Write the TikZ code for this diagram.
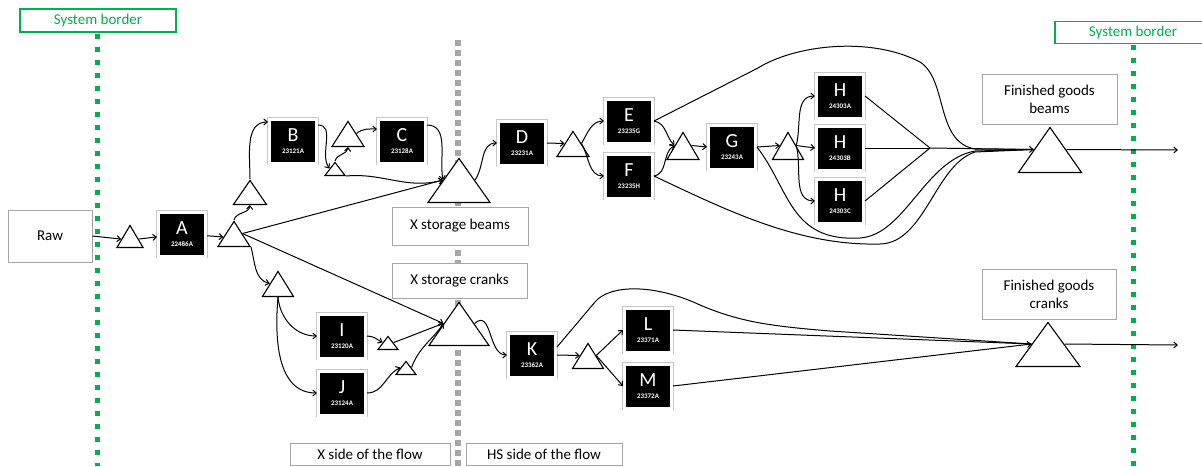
\documentclass[tikz,border=0pt]{standalone}
\usepackage{fontspec}
\setmainfont{Carlito}
\usetikzlibrary{arrows.meta,shapes.geometric,shadows}
\definecolor{sbgreen}{RGB}{0,176,80}
\definecolor{sepgray}{RGB}{166,166,166}
\definecolor{framegray}{RGB}{165,165,165}

% letter on top, article number underneath
\newcommand\proclabel[2]{{\fontsize{20}{20}\selectfont #1}\\[0pt]{\fontsize{7}{7}\selectfont\bfseries #2}}

\begin{document}
\begin{tikzpicture}[x=1pt,y=1pt,
  proc/.style={fill=black, text=white, draw=white, line width=3pt,
    preaction={draw=black!22, line width=4.6pt},
    minimum width=47pt, minimum height=44pt, inner sep=0pt, align=center},
  tri/.style={isosceles triangle, isosceles triangle stretches, shape border rotate=90,
    draw=black, fill=white, line width=1.1pt, inner sep=0pt, anchor=lower side},
  lbl/.style={draw=framegray, fill=white, line width=0.8pt, align=center, inner sep=0pt,
    font=\fontsize{15}{18}\selectfont},
  sb/.style={draw=sbgreen, fill=white, line width=1.2pt, text=sbgreen, inner sep=0pt,
    font=\fontsize{15}{15}\selectfont},
  fl/.style={line width=1pt, -{Straight Barb[length=3.5pt,width=6pt]}},
  ln/.style={line width=1pt},
  border/.style={sbgreen, line width=5pt, dash pattern=on 5pt off 8pt},
  divider/.style={sepgray, line width=6pt, dash pattern=on 6pt off 4pt},
]
\fill[white] (0,0) rectangle (1202,-466);
\useasboundingbox (0,0) rectangle (1202,-466);

% system borders and the divider between the two sides of the flow
\node[sb, minimum width=156pt, minimum height=23pt] (sbL) at (98,-20.5) {System border};
\node[sb, minimum width=156pt, minimum height=22pt] (sbR) at (1133,-32.5) {System border};
\coordinate (sbLend) at (97,-466);
\coordinate (sbRend) at (1133,-466);
\coordinate (divT) at (458,-40);
\coordinate (divB) at (458,-466);
\draw[border] ([xshift=-1pt,yshift=-1pt]sbL.south) -- (sbLend);
\draw[border] ([yshift=-1pt]sbR.south) -- (sbRend);
\draw[divider] (divT) -- (divB);

% text boxes
\node[lbl, minimum width=84pt, minimum height=52pt] (raw) at (50,-236) {Raw};
\node[lbl, minimum width=136pt, minimum height=38pt] (xbl) at (460,-226) {X storage beams};
\node[lbl, minimum width=135pt, minimum height=35pt] (xcl) at (459.5,-280.5) {X storage cranks};
\node[lbl, minimum width=135pt, minimum height=50pt] (fgbl) at (1049.5,-99) {Finished goods\\beams};
\node[lbl, minimum width=134pt, minimum height=50pt] (fgcl) at (1049,-294) {Finished goods\\cranks};
\node[lbl, minimum width=160pt, minimum height=22pt] (xside) at (370,-454) {X side of the flow};
\node[lbl, minimum width=156pt, minimum height=22pt] (hsside) at (544,-454) {HS side of the flow};

% inventories
\node[tri, minimum width=26pt, minimum height=22pt] (t1) at (130,-248) {};
\node[tri, minimum width=32pt, minimum height=25pt] (t2) at (234,-247) {};
\node[tri, minimum width=33pt, minimum height=24pt] (t3) at (250,-205) {};
\node[tri, minimum width=20pt, minimum height=13pt] (t4) at (335,-176) {};
\node[tri, minimum width=32pt, minimum height=25pt] (t5) at (348,-147) {};
\node[tri, minimum width=62pt, minimum height=44pt] (XB) at (459,-203) {};
\node[tri, minimum width=32pt, minimum height=25pt] (t6) at (573,-157) {};
\node[tri, minimum width=32pt, minimum height=27pt] (t7) at (683,-160) {};
\node[tri, minimum width=31pt, minimum height=27pt] (t8) at (788,-160) {};
\node[tri, minimum width=63pt, minimum height=45pt] (FGB) at (1050,-173) {};
\node[tri, minimum width=31pt, minimum height=25pt] (t9) at (278,-297) {};
\node[tri, minimum width=20pt, minimum height=13pt] (t10) at (388,-350) {};
\node[tri, minimum width=20pt, minimum height=13pt] (t11) at (406,-375) {};
\node[tri, minimum width=60pt, minimum height=43pt] (XC) at (459,-346) {};
\node[tri, minimum width=31pt, minimum height=25pt] (t12) at (588,-369) {};
\node[tri, minimum width=64pt, minimum height=44pt] (FGC) at (1048,-367) {};

% processes
\node[proc] (A) at (182,-234) {\proclabel{A}{22486A}};
\node[proc] (B) at (293,-141) {\proclabel{B}{23121A}};
\node[proc] (C) at (402,-141) {\proclabel{C}{23128A}};
\node[proc] (D) at (522,-143) {\proclabel{D}{23231A}};
\node[proc] (E) at (629,-121) {\proclabel{E}{23235G}};
\node[proc] (F) at (629,-176) {\proclabel{F}{23235H}};
\node[proc] (G) at (732,-147) {\proclabel{G}{23243A}};
\node[proc] (H1) at (840,-96) {\proclabel{H}{24303A}};
\node[proc] (H2) at (840,-148) {\proclabel{H}{24303B}};
\node[proc] (H3) at (840,-201) {\proclabel{H}{24303C}};
\node[proc] (I) at (342,-336) {\proclabel{I}{23120A}};
\node[proc] (J) at (342,-393) {\proclabel{J}{23124A}};
\node[proc] (K) at (532,-355) {\proclabel{K}{23362A}};
\node[proc] (L) at (648,-330) {\proclabel{L}{23371A}};
\node[proc] (M) at (648,-386) {\proclabel{M}{23372A}};

\coordinate (conv) at (930,-148);
\coordinate (outB) at (1178,-150);
\coordinate (outC) at (1178,-345);

% beams flow
\draw[fl] (raw.east) -- (t1);
\draw[fl] (t1) -- (A);
\draw[fl] (A) -- (t2);
\draw[fl] (t2.apex) to[out=75,in=-95] (t3.lower side);
\draw[fl] (t3.apex) to[out=90,in=180] ([yshift=19pt]B.west);
\draw[fl] ([yshift=16pt]B.east) to[out=0,in=125] (t4.left side);
\draw[fl] (t4.apex) to[out=75,in=-95] (t5.lower side);
\draw[fl] (t5.right side) to[out=40,in=180] ([yshift=12pt]C.west);
\draw[fl] (t4.right corner) to[out=5,in=195] (XB.left side);
\draw[fl] ([yshift=16pt]C.east) to[out=0,in=100] (XB.left side);
\draw[fl] (t2.right side) -- (XB.left side);
\draw[fl] (XB.right side) to[out=55,in=180] (D.west);
\draw[fl] (D.east) -- (t6.left side);
\draw[fl] (t6.right side) to[out=60,in=180] (E.west);
\draw[fl] (t6.right side) to[out=-60,in=180] (F.west);
\draw[fl] (E.east) to[out=-10,in=135] (t7.left side);
\draw[fl] (F.east) to[out=10,in=210] (t7.left side);
\draw[fl] (t7.right side) -- (G.west);
\draw[fl] (G.east) -- (t8.left side);
\draw[fl] (t8.right side) to[out=75,in=180] (H1.west);
\draw[fl] (t8.right side) -- (H2.west);
\draw[fl] (t8.right side) to[out=-75,in=180] (H3.west);
\draw[ln] (H1.east) -- (conv);
\draw[ln] (H2.east) -- (conv);
\draw[ln] (H3.east) -- (conv);
\draw[fl] (conv) -- (FGB.left side);
\draw[ln] (E.east) -- (758,-68) .. controls (795,-45) and (870,-36) .. (920,-62)
  .. controls (948,-80) and (935,-142) .. (975,-149) -- (FGB.left side);
\draw[ln] (G.east) .. controls (790,-190) and (790,-242) .. (860,-238)
  .. controls (905,-235) and (925,-160) .. (975,-151) -- (FGB.left side);
\draw[ln] (F.east) .. controls (730,-212) and (800,-246) .. (880,-244)
  .. controls (925,-243) and (935,-165) .. (975,-152) -- (FGB.left side);
\draw[fl] (FGB.right side) -- (outB);

% cranks flow
\draw[fl] (t2.right corner) to[out=-75,in=165] (t9.left side);
\draw[fl] (t2.right side) -- (XC.left side);
\draw[fl] (t9.lower side) to[out=-85,in=180] (I.west);
\draw[fl] (t9.lower side) to[out=-95,in=180] (J.west);
\draw[fl] (I.east) to[out=0,in=150] (t10.left side);
\draw[fl] (J.east) to[out=0,in=205] (t11.left side);
\draw[fl] (t10.right side) to[out=20,in=200] (XC.left side);
\draw[fl] (t11.right side) to[out=70,in=235] (XC.left side);
\draw[fl] (XC.right side) .. controls (492,-308) and (488,-355) .. (K.west);
\draw[fl] (K.east) -- (t12.left side);
\draw[fl] (t12.right side) -- (L.west);
\draw[fl] (t12.right side) -- (M.west);
\draw[ln] ([yshift=8pt]K.east) -- (595,-302) .. controls (610,-284) and (655,-284) .. (700,-305)
  .. controls (740,-322) and (770,-326) .. (830,-331) -- (FGC.left side);
\draw[ln] (L.east) -- (FGC.left side);
\draw[fl] (M.east) -- (FGC.left side);
\draw[fl] (FGC.right side) -- (outC);
\end{tikzpicture}
\end{document}
